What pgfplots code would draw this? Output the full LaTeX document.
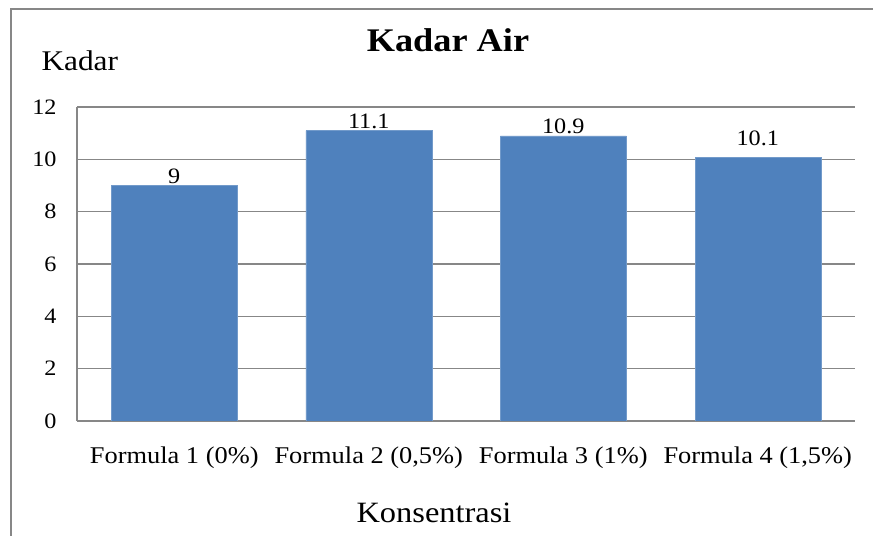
\documentclass[border=0pt]{standalone}
\usepackage{pgfplots}
\pgfplotsset{compat=1.18}
\usepackage{fontspec}
\setmainfont{Liberation Serif}[FakeStretch=1.1]
\definecolor{barblue}{HTML}{4F81BD}
\definecolor{gridgray}{HTML}{878787}
\begin{document}
\begin{tikzpicture}
\useasboundingbox (0,0) rectangle (873bp,536bp);
% chart frame (cropped on the right and bottom)
\draw[gridgray, line width=1.2bp] (11bp,0) -- (11bp,527bp) -- (873bp,527bp);
\begin{axis}[
    at={(77bp,115bp)}, anchor=south west,
    scale only axis, width=778bp, height=314bp,
    ymin=0, ymax=12, ytick={0,2,...,12},
    xmin=-0.5, xmax=3.5, xtick={0,1,2,3},
    xticklabels={{Formula 1 (0\%)}, {Formula 2 (0,5\%)}, {Formula 3 (1\%)}, {Formula 4 (1,5\%)}},
    axis lines*=left,
    axis line style={gridgray, line width=1.2bp},
    ymajorgrids, grid style={gridgray, line width=1.2bp},
    major tick style={draw=none},
    /pgf/number format/assume math mode=true,
    yticklabel style={font=\fontsize{22bp}{24bp}\selectfont, xshift=-17bp},
    xticklabel style={font=\fontsize{24bp}{26bp}\selectfont, yshift=-22bp},
    nodes near coords,
    nodes near coords style={font=\fontsize{22bp}{24bp}\selectfont, inner sep=1.5bp},
    point meta=explicit symbolic,
]
\addplot[ybar, bar shift=0pt, bar width=126bp, fill=barblue, draw=barblue!80!white] coordinates {
    (0, 9) [9]
    (1, 11.1) [11.1]
    (2, 10.9) [10.9]
};
% the last label sits higher, clear of the gridline
\addplot[ybar, bar shift=0pt, bar width=126bp, fill=barblue, draw=barblue!80!white,
    nodes near coords style={yshift=9bp}] coordinates {
    (3, 10.1) [10.1]
};
\end{axis}
\node[font=\bfseries\fontsize{33bp}{35bp}\selectfont] at (448bp,496bp) {Kadar Air};
\node[anchor=base west, font=\fontsize{28.5bp}{30bp}\selectfont] at (38bp,465bp) {Kadar};
\node[anchor=base, font=\fontsize{29.5bp}{31bp}\selectfont] at (434bp,14bp) {Konsentrasi};
\end{tikzpicture}
\end{document}
